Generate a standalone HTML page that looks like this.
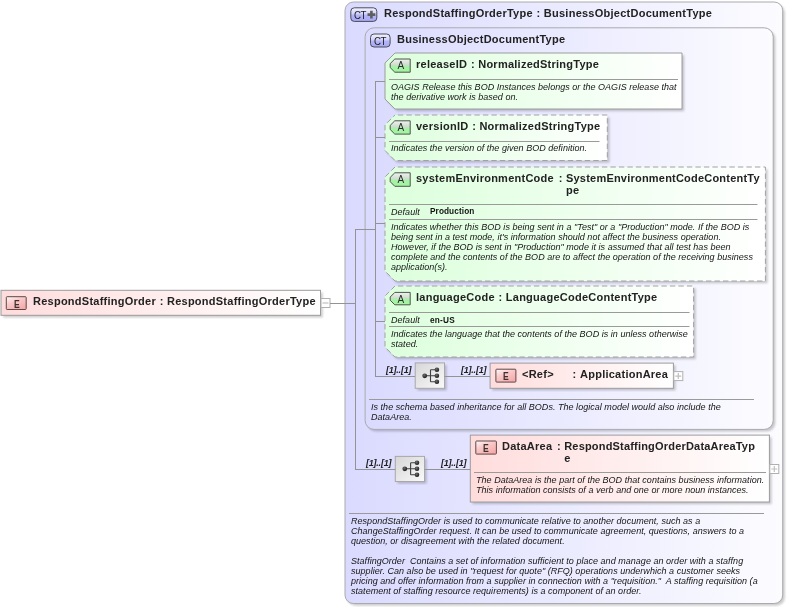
<!DOCTYPE html>
<html><head><meta charset="utf-8"><style>
html,body{margin:0;padding:0;background:#fff;}
body{width:787px;height:607px;position:relative;overflow:hidden;font-family:'Liberation Sans', sans-serif;}
svg{position:absolute;left:0;top:0;}
</style></head><body>
<svg width="787" height="607" viewBox="0 0 787 607">
<defs>
<linearGradient id="ctg" x1="0" y1="0" x2="1" y2="0"><stop offset="0" stop-color="#dadaff"/><stop offset="1" stop-color="#fcfcff"/></linearGradient>
<linearGradient id="attrg" x1="0" y1="0" x2="1" y2="0"><stop offset="0" stop-color="#dcffdc"/><stop offset="1" stop-color="#ffffff"/></linearGradient>
<linearGradient id="elg" x1="0" y1="0" x2="1" y2="0"><stop offset="0" stop-color="#ffdcdc"/><stop offset="1" stop-color="#ffffff"/></linearGradient>
<linearGradient id="seqg" x1="0" y1="0" x2="1" y2="1"><stop offset="0" stop-color="#d6d6d6"/><stop offset="1" stop-color="#fafafa"/></linearGradient>
<linearGradient id="ctbadge" x1="0" y1="0" x2="0" y2="1"><stop offset="0" stop-color="#f4f4ff"/><stop offset="0.45" stop-color="#d0d0fa"/><stop offset="0.55" stop-color="#b4b4f8"/><stop offset="1" stop-color="#a8a8f4"/></linearGradient>
<linearGradient id="abadge" x1="0" y1="0" x2="0" y2="1"><stop offset="0" stop-color="#eef2ee"/><stop offset="0.45" stop-color="#cfdccf"/><stop offset="0.56" stop-color="#a6f2a6"/><stop offset="1" stop-color="#a2f4a2"/></linearGradient>
<linearGradient id="ebadge" x1="0" y1="0" x2="0.7" y2="1"><stop offset="0" stop-color="#fffafa"/><stop offset="0.45" stop-color="#f9caca"/><stop offset="1" stop-color="#f6aaaa"/></linearGradient>
<radialGradient id="dotg" cx="0.4" cy="0.35" r="0.6"><stop offset="0" stop-color="#707070"/><stop offset="1" stop-color="#1e1e1e"/></radialGradient>
<filter id="blur" x="-5%" y="-5%" width="110%" height="110%"><feGaussianBlur stdDeviation="1.1"/></filter>
</defs>
<rect x="1.0" y="290.3" width="319.50" height="25.00" rx="0" transform="translate(2.2,2.2)" fill="#000" opacity="0.2" filter="url(#blur)"/>
<rect x="1.0" y="290.3" width="319.50" height="25.00" rx="0" fill="url(#elg)" stroke="#9c9c9c" stroke-width="1"/>
<rect x="6.3" y="296.7" width="19.90" height="12.80" rx="0.8" fill="url(#ebadge)" stroke="#5c4848" stroke-width="1"/>
<rect x="321.0" y="298.5" width="9" height="9" fill="#fff" stroke="#b0b0b0" stroke-width="1"/>
<path d="M322.5 303.0 H328.5" stroke="#c0c0c0" stroke-width="1.2"/>
<rect x="345.0" y="2.0" width="437.70" height="601.50" rx="8.5" transform="translate(2.2,2.2)" fill="#000" opacity="0.2" filter="url(#blur)"/>
<rect x="345.0" y="2.0" width="437.70" height="601.50" rx="8.5" fill="url(#ctg)" stroke="#aaaaae" stroke-width="1"/>
<rect x="350.8" y="7.8" width="26.00" height="13.60" rx="3.5" fill="url(#ctbadge)" stroke="#4c4c58" stroke-width="1"/>
<path d="M367.50000000000006 14.6 H375.3 M371.40000000000003 10.7 V18.5" stroke="#5e5e5e" stroke-width="2.6"/>
<rect x="365.1" y="27.8" width="408.10" height="401.60" rx="9" transform="translate(2.2,2.2)" fill="#000" opacity="0.2" filter="url(#blur)"/>
<rect x="365.1" y="27.8" width="408.10" height="401.60" rx="9" fill="url(#ctg)" stroke="#aaaaae" stroke-width="1"/>
<rect x="370.5" y="34.0" width="19.60" height="13.00" rx="3.5" fill="url(#ctbadge)" stroke="#4c4c58" stroke-width="1"/>
<polygon points="395.0,53.0 682.0,53.0 682.0,109.0 395.0,109.0 385.0,99.0 385.0,63.0" transform="translate(2.2,2.2)" fill="#000" opacity="0.2" filter="url(#blur)"/>
<polygon points="395.0,53.0 682.0,53.0 682.0,109.0 395.0,109.0 385.0,99.0 385.0,63.0" fill="url(#attrg)" stroke="#9c9c9c" stroke-width="1"/>
<polygon points="394.8,59.0 410.2,59.0 410.2,72.2 394.8,72.2 390.2,67.60000000000001 390.2,63.6" fill="url(#abadge)" stroke="#4a554a" stroke-width="1"/>
<polygon points="395.0,115.0 607.3,115.0 607.3,160.5 395.0,160.5 385.0,150.5 385.0,125.0" transform="translate(2.2,2.2)" fill="#000" opacity="0.2" filter="url(#blur)"/>
<polygon points="395.0,115.0 607.3,115.0 607.3,160.5 395.0,160.5 385.0,150.5 385.0,125.0" fill="url(#attrg)" stroke="#a2a2a2" stroke-width="1" stroke-dasharray="5.4 3.1" stroke-dashoffset="5.6"/>
<polygon points="394.8,120.8 410.2,120.8 410.2,134.1 394.8,134.1 390.2,129.5 390.2,125.39999999999999" fill="url(#abadge)" stroke="#4a554a" stroke-width="1"/>
<polygon points="395.0,167.0 765.4,167.0 765.4,281.0 395.0,281.0 385.0,271.0 385.0,177.0" transform="translate(2.2,2.2)" fill="#000" opacity="0.2" filter="url(#blur)"/>
<polygon points="395.0,167.0 765.4,167.0 765.4,281.0 395.0,281.0 385.0,271.0 385.0,177.0" fill="url(#attrg)" stroke="#a2a2a2" stroke-width="1" stroke-dasharray="5.4 3.1" stroke-dashoffset="5.6"/>
<polygon points="394.8,172.8 410.2,172.8 410.2,186.3 394.8,186.3 390.2,181.70000000000002 390.2,177.4" fill="url(#abadge)" stroke="#4a554a" stroke-width="1"/>
<polygon points="395.0,286.0 693.6,286.0 693.6,357.0 395.0,357.0 385.0,347.0 385.0,296.0" transform="translate(2.2,2.2)" fill="#000" opacity="0.2" filter="url(#blur)"/>
<polygon points="395.0,286.0 693.6,286.0 693.6,357.0 395.0,357.0 385.0,347.0 385.0,296.0" fill="url(#attrg)" stroke="#a2a2a2" stroke-width="1" stroke-dasharray="5.4 3.1" stroke-dashoffset="5.6"/>
<polygon points="394.8,292.4 410.2,292.4 410.2,304.8 394.8,304.8 390.2,300.2 390.2,297.0" fill="url(#abadge)" stroke="#4a554a" stroke-width="1"/>
<rect x="415.2" y="362.9" width="29.30" height="25.40" rx="0" transform="translate(2.2,2.2)" fill="#000" opacity="0.2" filter="url(#blur)"/>
<rect x="415.2" y="362.9" width="29.30" height="25.40" rx="0" fill="url(#seqg)" stroke="#a8a8a8" stroke-width="1"/>
<path d="M424.7 375.8 H436.9 M430.5 369.8 V381.8 M430.5 369.8 H436.9 M430.5 381.8 H436.9" stroke="#404040" stroke-width="1.1" fill="none"/>
<circle cx="424.7" cy="375.8" r="2.4" fill="url(#dotg)"/>
<circle cx="436.9" cy="369.8" r="2.3" fill="url(#dotg)"/>
<circle cx="436.9" cy="375.8" r="2.3" fill="url(#dotg)"/>
<circle cx="436.9" cy="381.8" r="2.3" fill="url(#dotg)"/>
<rect x="490.1" y="363.1" width="183.30" height="25.20" rx="0" transform="translate(2.2,2.2)" fill="#000" opacity="0.2" filter="url(#blur)"/>
<rect x="490.1" y="363.1" width="183.30" height="25.20" rx="0" fill="url(#elg)" stroke="#9c9c9c" stroke-width="1"/>
<rect x="495.9" y="369.2" width="20.00" height="12.90" rx="0.8" fill="url(#ebadge)" stroke="#5c4848" stroke-width="1"/>
<rect x="673.8" y="371.6" width="9" height="9" fill="#fff" stroke="#b0b0b0" stroke-width="1"/>
<path d="M675.3 376.1 H681.3 M678.3 373.1 V379.1" stroke="#c0c0c0" stroke-width="1.2"/>
<rect x="395.3" y="456.4" width="29.20" height="25.10" rx="0" transform="translate(2.2,2.2)" fill="#000" opacity="0.2" filter="url(#blur)"/>
<rect x="395.3" y="456.4" width="29.20" height="25.10" rx="0" fill="url(#seqg)" stroke="#a8a8a8" stroke-width="1"/>
<path d="M404.8 468.8 H417.0 M410.6 462.8 V474.8 M410.6 462.8 H417.0 M410.6 474.8 H417.0" stroke="#404040" stroke-width="1.1" fill="none"/>
<circle cx="404.8" cy="468.8" r="2.4" fill="url(#dotg)"/>
<circle cx="417.0" cy="462.8" r="2.3" fill="url(#dotg)"/>
<circle cx="417.0" cy="468.8" r="2.3" fill="url(#dotg)"/>
<circle cx="417.0" cy="474.8" r="2.3" fill="url(#dotg)"/>
<rect x="470.3" y="435.1" width="299.10" height="66.90" rx="0" transform="translate(2.2,2.2)" fill="#000" opacity="0.2" filter="url(#blur)"/>
<rect x="470.3" y="435.1" width="299.10" height="66.90" rx="0" fill="url(#elg)" stroke="#9c9c9c" stroke-width="1"/>
<rect x="475.8" y="441.0" width="20.60" height="13.10" rx="0.8" fill="url(#ebadge)" stroke="#5c4848" stroke-width="1"/>
<rect x="769.8" y="464.5" width="9" height="9" fill="#fff" stroke="#b0b0b0" stroke-width="1"/>
<path d="M771.3 469.0 H777.3 M774.3 466.0 V472.0" stroke="#c0c0c0" stroke-width="1.2"/>
<line x1="330" y1="303.5" x2="355.5" y2="303.5" stroke="#939393" stroke-width="1"/>
<line x1="355.5" y1="229" x2="355.5" y2="470" stroke="#939393" stroke-width="1"/>
<line x1="355" y1="229.5" x2="375.5" y2="229.5" stroke="#939393" stroke-width="1"/>
<line x1="375.5" y1="81" x2="375.5" y2="377" stroke="#939393" stroke-width="1"/>
<line x1="389" y1="79.5" x2="678" y2="79.5" stroke="#9a9a9a" stroke-width="1"/>
<line x1="375.5" y1="81.5" x2="385" y2="81.5" stroke="#939393" stroke-width="1"/>
<line x1="389" y1="141.5" x2="599.5" y2="141.5" stroke="#9a9a9a" stroke-width="1"/>
<line x1="375.5" y1="137.5" x2="385" y2="137.5" stroke="#939393" stroke-width="1"/>
<line x1="389" y1="204.5" x2="757.5" y2="204.5" stroke="#9a9a9a" stroke-width="1"/>
<line x1="389" y1="219.5" x2="757.5" y2="219.5" stroke="#9a9a9a" stroke-width="1"/>
<line x1="375.5" y1="223.5" x2="385" y2="223.5" stroke="#939393" stroke-width="1"/>
<line x1="389" y1="312.5" x2="689.5" y2="312.5" stroke="#9a9a9a" stroke-width="1"/>
<line x1="389" y1="326.5" x2="689.5" y2="326.5" stroke="#9a9a9a" stroke-width="1"/>
<line x1="375.5" y1="321.5" x2="385" y2="321.5" stroke="#939393" stroke-width="1"/>
<line x1="375.5" y1="376.5" x2="415" y2="376.5" stroke="#939393" stroke-width="1"/>
<line x1="444.5" y1="376.5" x2="490" y2="376.5" stroke="#939393" stroke-width="1"/>
<line x1="369" y1="399.5" x2="754" y2="399.5" stroke="#9a9a9a" stroke-width="1"/>
<line x1="355.5" y1="469.5" x2="395.3" y2="469.5" stroke="#939393" stroke-width="1"/>
<line x1="424.5" y1="469.5" x2="470.3" y2="469.5" stroke="#939393" stroke-width="1"/>
<line x1="474" y1="472.5" x2="766" y2="472.5" stroke="#9a9a9a" stroke-width="1"/>
<line x1="349" y1="513.5" x2="764" y2="513.5" stroke="#9a9a9a" stroke-width="1"/>
</svg>
<div style="position:absolute;left:0;top:0;width:787px;height:607px;will-change:transform">
<div style="position:absolute;left:13.55px;top:297.60px;font:bold 11px/13px 'Liberation Sans', sans-serif;color:#3e3030;transform:scaleX(0.78);transform-origin:0 0">E</div>
<div style="position:absolute;left:33px;top:294.69px;font:bold 11px/13px 'Liberation Sans', sans-serif;letter-spacing:0.25px;color:#222;white-space:pre">RespondStaffingOrder<span style="margin:0 3.3px 0 3.8px">:</span>RespondStaffingOrderType</div>
<div style="position:absolute;left:354.2px;top:8.80px;font:11px/13px 'Liberation Sans', sans-serif;color:#1c1c1c;letter-spacing:-0.6px;transform:scaleX(0.88);transform-origin:0 0">CT</div>
<div style="position:absolute;left:384px;top:6.69px;font:bold 11px/13px 'Liberation Sans', sans-serif;letter-spacing:0.25px;color:#222;white-space:pre">RespondStaffingOrderType<span style="margin:0 3.3px 0 3.8px">:</span>BusinessObjectDocumentType</div>
<div style="position:absolute;left:373.9px;top:35.00px;font:11px/13px 'Liberation Sans', sans-serif;color:#1c1c1c;letter-spacing:-0.6px;transform:scaleX(0.88);transform-origin:0 0">CT</div>
<div style="position:absolute;left:397px;top:32.69px;font-size:11px;line-height:13px;font-weight:bold;font-style:normal;color:#222;letter-spacing:0.25px;white-space:pre;">BusinessObjectDocumentType</div>
<div style="position:absolute;left:397.50px;top:59.20px;font:10px/13px 'Liberation Sans', sans-serif;color:#2c2c2c">A</div>
<div style="position:absolute;left:416px;top:57.69px;font:bold 11px/13px 'Liberation Sans', sans-serif;letter-spacing:0.25px;color:#222;white-space:pre">releaseID<span style="margin:0 3.3px 0 3.8px">:</span>NormalizedStringType</div>
<div style="position:absolute;left:391px;top:81.88px;font-size:9px;line-height:10px;font-weight:normal;font-style:italic;color:#151515;letter-spacing:0.03px;white-space:pre;">OAGIS Release this BOD Instances belongs or the OAGIS release that</div>
<div style="position:absolute;left:391px;top:91.88px;font-size:9px;line-height:10px;font-weight:normal;font-style:italic;color:#151515;letter-spacing:0.03px;white-space:pre;">the derivative work is based on.</div>
<div style="position:absolute;left:397.50px;top:121.00px;font:10px/13px 'Liberation Sans', sans-serif;color:#2c2c2c">A</div>
<div style="position:absolute;left:416px;top:119.69px;font:bold 11px/13px 'Liberation Sans', sans-serif;letter-spacing:0.25px;color:#222;white-space:pre">versionID<span style="margin:0 3.3px 0 3.8px">:</span>NormalizedStringType</div>
<div style="position:absolute;left:391px;top:143.38px;font-size:9px;line-height:10px;font-weight:normal;font-style:italic;color:#151515;letter-spacing:0.03px;white-space:pre;">Indicates the version of the given BOD definition.</div>
<div style="position:absolute;left:397.50px;top:173.00px;font:10px/13px 'Liberation Sans', sans-serif;color:#2c2c2c">A</div>
<div style="position:absolute;left:416px;top:171.69px;font-size:11px;line-height:13px;font-weight:bold;font-style:normal;color:#222;letter-spacing:0.25px;white-space:pre;">systemEnvironmentCode</div>
<div style="position:absolute;left:558.7800000000001px;top:171.69px;font-size:11px;line-height:13px;font-weight:bold;font-style:normal;color:#222;letter-spacing:0px;white-space:pre;">:</div>
<div style="position:absolute;left:566px;top:171.69px;font-size:11px;line-height:13px;font-weight:bold;font-style:normal;color:#222;letter-spacing:0.21px;white-space:pre;">SystemEnvironmentCodeContentTy</div>
<div style="position:absolute;left:566px;top:184.29px;font-size:11px;line-height:13px;font-weight:bold;font-style:normal;color:#222;letter-spacing:0.21px;white-space:pre;">pe</div>
<div style="position:absolute;left:391px;top:206.88px;font-size:9px;line-height:10px;font-weight:normal;font-style:italic;color:#151515;letter-spacing:0.03px;white-space:pre;">Default</div>
<div style="position:absolute;left:430px;top:205.88px;font-size:9px;line-height:10px;font-weight:bold;font-style:normal;color:#111;letter-spacing:0.1px;white-space:pre;transform:scaleX(0.915);transform-origin:0 0;">Production</div>
<div style="position:absolute;left:391px;top:221.88px;font-size:9px;line-height:10px;font-weight:normal;font-style:italic;color:#151515;letter-spacing:0.03px;white-space:pre;">Indicates whether this BOD is being sent in a "Test" or a "Production" mode. If the BOD is</div>
<div style="position:absolute;left:391px;top:231.88px;font-size:9px;line-height:10px;font-weight:normal;font-style:italic;color:#151515;letter-spacing:0.03px;white-space:pre;">being sent in a test mode, it's information should not affect the business operation.</div>
<div style="position:absolute;left:391px;top:241.88px;font-size:9px;line-height:10px;font-weight:normal;font-style:italic;color:#151515;letter-spacing:0.03px;white-space:pre;">However, if the BOD is sent in "Production" mode it is assumed that all test has been</div>
<div style="position:absolute;left:391px;top:251.88px;font-size:9px;line-height:10px;font-weight:normal;font-style:italic;color:#151515;letter-spacing:0.03px;white-space:pre;">complete and the contents of the BOD are to affect the operation of the receiving business</div>
<div style="position:absolute;left:391px;top:261.88px;font-size:9px;line-height:10px;font-weight:normal;font-style:italic;color:#151515;letter-spacing:0.03px;white-space:pre;">application(s).</div>
<div style="position:absolute;left:397.50px;top:292.60px;font:10px/13px 'Liberation Sans', sans-serif;color:#2c2c2c">A</div>
<div style="position:absolute;left:416px;top:290.69px;font:bold 11px/13px 'Liberation Sans', sans-serif;letter-spacing:0.25px;color:#222;white-space:pre">languageCode<span style="margin:0 3.3px 0 3.8px">:</span>LanguageCodeContentType</div>
<div style="position:absolute;left:391px;top:314.88px;font-size:9px;line-height:10px;font-weight:normal;font-style:italic;color:#151515;letter-spacing:0.03px;white-space:pre;">Default</div>
<div style="position:absolute;left:430px;top:314.88px;font-size:9px;line-height:10px;font-weight:bold;font-style:normal;color:#111;letter-spacing:0.25px;white-space:pre;transform:scaleX(0.915);transform-origin:0 0;">en-US</div>
<div style="position:absolute;left:391px;top:328.88px;font-size:9px;line-height:10px;font-weight:normal;font-style:italic;color:#151515;letter-spacing:0.03px;white-space:pre;">Indicates the language that the contents of the BOD is in unless otherwise</div>
<div style="position:absolute;left:391px;top:338.88px;font-size:9px;line-height:10px;font-weight:normal;font-style:italic;color:#151515;letter-spacing:0.03px;white-space:pre;">stated.</div>
<div style="position:absolute;left:386px;top:365.38px;font-size:9px;line-height:10px;font-weight:bold;font-style:italic;color:#202020;letter-spacing:-0.22px;white-space:pre;">[1]..[1]</div>
<div style="position:absolute;left:461px;top:365.38px;font-size:9px;line-height:10px;font-weight:bold;font-style:italic;color:#202020;letter-spacing:-0.22px;white-space:pre;">[1]..[1]</div>
<div style="position:absolute;left:503.20px;top:370.10px;font:bold 11px/13px 'Liberation Sans', sans-serif;color:#3e3030;transform:scaleX(0.78);transform-origin:0 0">E</div>
<div style="position:absolute;left:522px;top:367.69px;font-size:11px;line-height:13px;font-weight:bold;font-style:normal;color:#222;letter-spacing:0.25px;white-space:pre;">&lt;Ref&gt;</div>
<div style="position:absolute;left:572.5px;top:367.69px;font-size:11px;line-height:13px;font-weight:bold;font-style:normal;color:#222;letter-spacing:0px;white-space:pre;">:</div>
<div style="position:absolute;left:580px;top:367.69px;font-size:11px;line-height:13px;font-weight:bold;font-style:normal;color:#222;letter-spacing:0.25px;white-space:pre;">ApplicationArea</div>
<div style="position:absolute;left:371px;top:401.88px;font-size:9px;line-height:10px;font-weight:normal;font-style:italic;color:#151515;letter-spacing:0.03px;white-space:pre;">Is the schema based inheritance for all BODs. The logical model would also include the</div>
<div style="position:absolute;left:371px;top:411.88px;font-size:9px;line-height:10px;font-weight:normal;font-style:italic;color:#151515;letter-spacing:0.03px;white-space:pre;">DataArea.</div>
<div style="position:absolute;left:366px;top:458.38px;font-size:9px;line-height:10px;font-weight:bold;font-style:italic;color:#202020;letter-spacing:-0.22px;white-space:pre;">[1]..[1]</div>
<div style="position:absolute;left:441px;top:458.38px;font-size:9px;line-height:10px;font-weight:bold;font-style:italic;color:#202020;letter-spacing:-0.22px;white-space:pre;">[1]..[1]</div>
<div style="position:absolute;left:483.40px;top:441.90px;font:bold 11px/13px 'Liberation Sans', sans-serif;color:#3e3030;transform:scaleX(0.78);transform-origin:0 0">E</div>
<div style="position:absolute;left:502px;top:439.69px;font-size:11px;line-height:13px;font-weight:bold;font-style:normal;color:#222;letter-spacing:0.25px;white-space:pre;">DataArea</div>
<div style="position:absolute;left:556.9800000000001px;top:439.69px;font-size:11px;line-height:13px;font-weight:bold;font-style:normal;color:#222;letter-spacing:0px;white-space:pre;">:</div>
<div style="position:absolute;left:564.2px;top:439.69px;font-size:11px;line-height:13px;font-weight:bold;font-style:normal;color:#222;letter-spacing:0.19px;white-space:pre;">RespondStaffingOrderDataAreaTyp</div>
<div style="position:absolute;left:564.2px;top:452.29px;font-size:11px;line-height:13px;font-weight:bold;font-style:normal;color:#222;letter-spacing:0.19px;white-space:pre;">e</div>
<div style="position:absolute;left:476px;top:474.88px;font-size:9px;line-height:10px;font-weight:normal;font-style:italic;color:#151515;letter-spacing:0.03px;white-space:pre;">The DataArea is the part of the BOD that contains business information.</div>
<div style="position:absolute;left:476px;top:484.88px;font-size:9px;line-height:10px;font-weight:normal;font-style:italic;color:#151515;letter-spacing:0.03px;white-space:pre;">This information consists of a verb and one or more noun instances.</div>
<div style="position:absolute;left:351px;top:515.88px;font-size:9px;line-height:10px;font-weight:normal;font-style:italic;color:#151515;letter-spacing:0.03px;white-space:pre;">RespondStaffingOrder is used to communicate relative to another document, such as a</div>
<div style="position:absolute;left:351px;top:525.88px;font-size:9px;line-height:10px;font-weight:normal;font-style:italic;color:#151515;letter-spacing:0.03px;white-space:pre;">ChangeStaffingOrder request. It can be used to communicate agreement, questions, answers to a</div>
<div style="position:absolute;left:351px;top:535.88px;font-size:9px;line-height:10px;font-weight:normal;font-style:italic;color:#151515;letter-spacing:0.03px;white-space:pre;">question, or disagreement with the related document.</div>
<div style="position:absolute;left:351px;top:555.88px;font-size:9px;line-height:10px;font-weight:normal;font-style:italic;color:#151515;letter-spacing:0.03px;white-space:pre;">StaffingOrder  Contains a set of information sufficient to place and manage an order with a staffng</div>
<div style="position:absolute;left:351px;top:565.88px;font-size:9px;line-height:10px;font-weight:normal;font-style:italic;color:#151515;letter-spacing:0.03px;white-space:pre;">supplier. Can also be used in "request for quote" (RFQ) operations underwhich a customer seeks</div>
<div style="position:absolute;left:351px;top:575.88px;font-size:9px;line-height:10px;font-weight:normal;font-style:italic;color:#151515;letter-spacing:0.03px;white-space:pre;">pricing and offer information from a supplier in connection with a "requisition."  A staffing requisition (a</div>
<div style="position:absolute;left:351px;top:585.88px;font-size:9px;line-height:10px;font-weight:normal;font-style:italic;color:#151515;letter-spacing:0.03px;white-space:pre;">statement of staffing resource requirements) is a component of an order.</div>
</div>
</body></html>
